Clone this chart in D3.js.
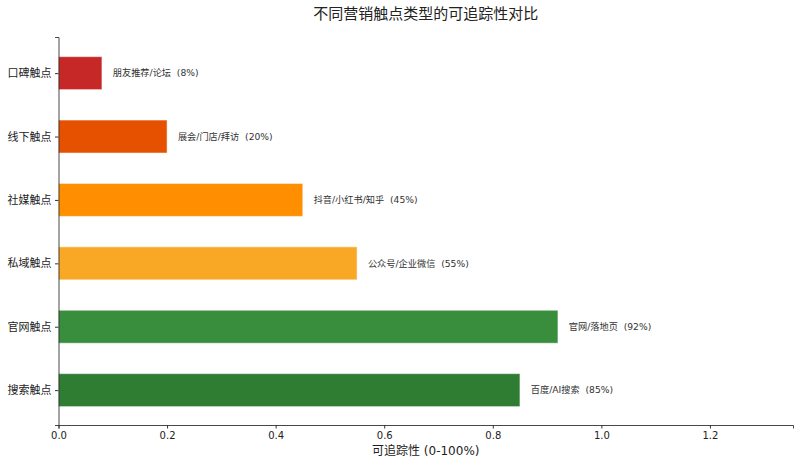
<!DOCTYPE html>
<html><head><meta charset="utf-8">
<script src="https://cdn.jsdelivr.net/npm/d3@7"></script>
<style>body{margin:0;background:#fff}svg{display:block}text{font-family:"DejaVu Sans","Noto Sans CJK SC",sans-serif}</style>
</head><body><svg id="c" width="800" height="463"></svg>
<script>
const categories = ["搜索触点","官网触点","私域触点","社媒触点","线下触点","口碑触点"];
const values = [0.85,0.92,0.55,0.45,0.20,0.08];
const barLabels = ["百度/AI搜索","官网/落地页","公众号/企业微信","抖音/小红书/知乎","展会/门店/拜访","朋友推荐/论坛"];
const colors = ["#2e7d32","#388e3c","#f9a825","#ff8f00","#e65100","#c62828"];
const xTicks = [0,0.2,0.4,0.6,0.8,1.0,1.2];
const title = "不同营销触点类型的可追踪性对比";
const xLabel = "可追踪性 (0-100%)";

const svg = d3.select("#c");
const L = 58.5, R = 793, T = 37, B = 425;
const x = d3.scaleLinear().domain([0,1.353]).range([L,R]);
const y = d3.scaleLinear().domain([-0.55,5.57]).range([B,T]);
const bh = 0.52;

const g = svg.append("g");
g.selectAll("rect").data(values).join("rect")
  .attr("x", x(0))
  .attr("y", (d,i)=>y(i+bh/2))
  .attr("width", d=>x(d)-x(0))
  .attr("height", y(0)-y(bh))
  .attr("fill", (d,i)=>colors[i])
  .attr("stroke","#fff").attr("stroke-opacity",0.5).attr("stroke-width",1);

g.selectAll("text.lbl").data(values).join("text").attr("class","lbl")
  .attr("x", d=>x(d+0.02))
  .attr("y", (d,i)=>y(i))
  .attr("dy","0.35em")
  .attr("font-size",9.2)
  .attr("fill","#333")
  .style("white-space","pre")
  .text((d,i)=>`${barLabels[i]}  (${Math.round(d*100)}%)`);

const xa = svg.append("g").attr("transform",`translate(0,${B})`)
  .call(d3.axisBottom(x).tickValues(xTicks).tickFormat(d3.format(".1f")).tickSizeOuter(0).tickSize(3.5).tickPadding(3.5));
xa.select(".domain").attr("stroke","#333").attr("stroke-width",0.9);
xa.selectAll("line").attr("stroke","#333");
xa.selectAll("text").attr("font-size",10).attr("fill","#222");

const ya = svg.append("g").attr("transform",`translate(${L},0)`)
  .call(d3.axisLeft(y).tickValues(d3.range(categories.length)).tickFormat(i=>categories[i]).tickSizeOuter(0).tickSize(3.5).tickPadding(3.5));
ya.select(".domain").attr("stroke","#333").attr("stroke-width",0.9);
ya.selectAll("line").attr("stroke","#333");
ya.selectAll("text").attr("font-size",11).attr("fill","#222").attr("font-family","'Noto Sans CJK SC',sans-serif");

svg.append("text").attr("x",(L+R)/2).attr("y",19).attr("text-anchor","middle")
  .attr("font-size",15).attr("fill","#222").attr("font-family","'Noto Sans CJK SC',sans-serif").text(title);
svg.append("text").attr("x",(L+R)/2).attr("y",455).attr("text-anchor","middle")
  .attr("font-size",12).attr("fill","#222").text(xLabel);
</script></body></html>
